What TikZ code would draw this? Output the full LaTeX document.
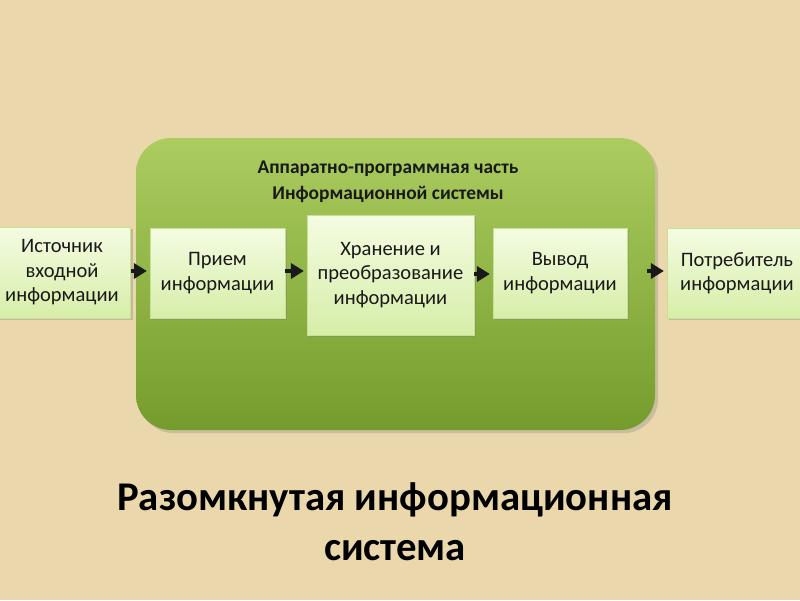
\documentclass[tikz,border=0pt]{standalone}
\usepackage{fontspec}
\setmainfont{Carlito}
\usetikzlibrary{arrows.meta,shadows}
\definecolor{bg}{RGB}{234,216,172}
\definecolor{gtop}{RGB}{172,204,96}
\definecolor{gbot}{RGB}{116,156,44}
\definecolor{btop}{RGB}{244,252,226}
\definecolor{bbot}{RGB}{214,238,168}
\definecolor{bbord}{RGB}{200,224,150}
\tikzset{
  infobox/.style={draw=bbord, line width=0.4pt, top color=btop, bottom color=bbot,
    align=center, font=\fontsize{14.6}{17.4}\selectfont, text=black!90,
    drop shadow={shadow xshift=0.6mm, shadow yshift=-0.6mm, opacity=0.35}},
  flow/.style={-{Triangle[angle=60:6pt 2]}, line width=2.4pt, black!90}
}
\begin{document}
\begin{tikzpicture}[x=0.025cm,y=-0.025cm]
\fill[bg] (0,0) rectangle (800,600);
\useasboundingbox (0,0) rectangle (800,600);
% green container
\node[draw=none, rounded corners=35*0.025cm, top color=gtop, bottom color=gbot,
  minimum width=519*0.025cm, minimum height=292*0.025cm, inner sep=0pt,
  drop shadow={shadow xshift=0.8mm, shadow yshift=-0.8mm, opacity=0.3}] (cont) at (395.5,284) {};
\node[font=\bfseries\fontsize{13.8}{18.4}\selectfont, align=center, text=black!90] (head) at (388,182)
  {Аппаратно-программная часть\\Информационной системы};
% boxes
\node[infobox, minimum width=137*0.025cm, minimum height=91*0.025cm, inner sep=0pt] (src) at (62,272.5)
  {Источник\\входной\\информации};
\node[infobox, minimum width=135*0.025cm, minimum height=90*0.025cm, inner sep=0pt] (recv) at (217.5,273)
  {Прием\\информации};
\node[infobox, minimum width=167*0.025cm, minimum height=120*0.025cm, inner sep=0pt] (store) at (390.5,275)
  {Хранение и\\преобразование\\информации};
\node[infobox, minimum width=134*0.025cm, minimum height=90*0.025cm, inner sep=0pt] (out) at (560,273)
  {Вывод\\информации};
\node[infobox, minimum width=140*0.025cm, minimum height=90*0.025cm, inner sep=0pt] (cons) at (737,273)
  {Потребитель\\информации};
% arrows
\draw[flow, shorten <=0pt, shorten >=2pt] (src.east |- 0,271) -- (recv.west |- 0,271);
\draw[flow, shorten >=2pt] (recv.east |- 0,271) -- (store.west |- 0,271);
\draw[flow, shorten >=2pt] (store.east |- 0,274) -- (out.west |- 0,274);
\draw[flow, shorten <=20*0.025cm, shorten >=2pt] (out.east |- 0,271) -- (cons.west |- 0,271);
% title
\node[font=\bfseries\fontsize{29}{35.5}\selectfont, align=center, text=black] (title) at (395,522)
  {Разомкнутая информационная\\система};
\end{tikzpicture}
\end{document}
